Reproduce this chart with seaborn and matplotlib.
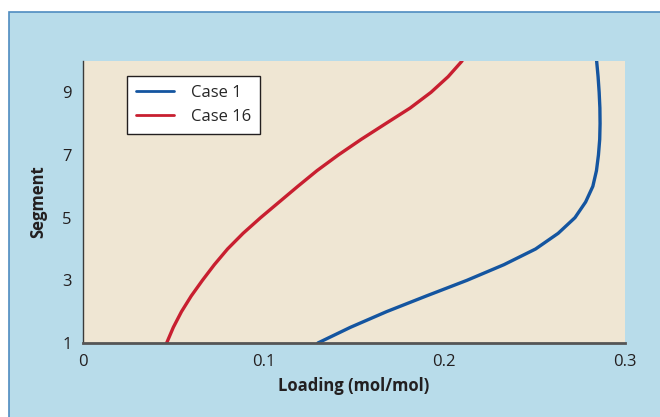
import matplotlib
matplotlib.use("Agg")
import matplotlib.pyplot as plt
import pandas as pd
import seaborn as sns
from matplotlib.patches import Rectangle

# values
segment = [1.0, 1.5, 2.0, 2.5, 3.0, 3.5, 4.0, 4.5, 5.0, 5.5,
           6.0, 6.5, 7.0, 7.5, 8.0, 8.5, 9.0, 9.5, 10.0]
case_1 = [0.130, 0.148, 0.168, 0.190, 0.2125, 0.2330, 0.2505, 0.2630, 0.2723, 0.2782,
          0.2822, 0.2842, 0.2853, 0.2860, 0.2862, 0.2861, 0.2857, 0.2851, 0.2843]
case_16 = [0.0463, 0.0500, 0.0545, 0.0599, 0.0661, 0.0727, 0.0800, 0.0886, 0.0983, 0.1086,
           0.1189, 0.1295, 0.1413, 0.1540, 0.1675, 0.1811, 0.1926, 0.2021, 0.2098]
series_names = ["Case 1", "Case 16"]
x_ticks = [0, 0.1, 0.2, 0.3]
x_labels = ["0", "0.1", "0.2", "0.3"]
y_ticks = [1, 3, 5, 7, 9]

df = pd.concat([
    pd.DataFrame({"segment": segment, "loading": case_1, "case": series_names[0]}),
    pd.DataFrame({"segment": segment, "loading": case_16, "case": series_names[1]}),
])

sns.set_style("white")
plt.rcParams["font.family"] = ["Open Sans", "DejaVu Sans"]

fig = plt.figure(figsize=(6.6, 4.17), dpi=100)
fig.patch.set_facecolor("white")
panel = Rectangle((9 / 660, -0.05), 1.1, (417 - 12) / 417 + 0.05,
                  transform=fig.transFigure, facecolor="#b8dcea",
                  edgecolor="#4f8cc0", linewidth=1.2, zorder=-10)
fig.add_artist(panel)

ax = fig.add_axes([83 / 660, 74 / 417, 542 / 660, 282 / 417])
ax.set_facecolor("#efe6d3")

sns.lineplot(data=df, x="loading", y="segment", hue="case", sort=False,
             estimator=None, palette=["#1455a0", "#c81f30"], linewidth=2.4,
             solid_joinstyle="round", ax=ax)

ax.set_xlim(0, 0.3)
ax.set_ylim(1, 10)
ax.set_xticks(x_ticks)
ax.set_xticklabels(x_labels)
ax.set_yticks(y_ticks)
ax.tick_params(length=0, labelsize=12, colors="#231f20", pad=8)
ax.set_xlabel("Loading (mol/mol)", fontsize=12, fontweight="bold", color="#231f20", labelpad=5)
ax.set_ylabel("Segment", fontsize=12, fontweight="bold", color="#231f20", labelpad=11)

for side in ["top", "right"]:
    ax.spines[side].set_visible(False)
ax.spines["left"].set_color("#3a3a3a")
ax.spines["left"].set_linewidth(1.0)
ax.spines["bottom"].set_color("#555555")
ax.spines["bottom"].set_linewidth(2.0)

leg = ax.legend(loc="upper left", bbox_to_anchor=(0.081, 0.947), borderaxespad=0,
                frameon=True, fancybox=False, fontsize=12, handlelength=2.3,
                borderpad=0.55, labelspacing=0.45, handletextpad=1.0)
leg.get_frame().set_edgecolor("#231f20")
leg.get_frame().set_linewidth(1.0)
leg.get_frame().set_facecolor("white")
leg.get_frame().set_alpha(1)
for line in leg.get_lines():
    line.set_linewidth(2.0)
leg.set_title(None)

fig.savefig("out.png", dpi=100)
